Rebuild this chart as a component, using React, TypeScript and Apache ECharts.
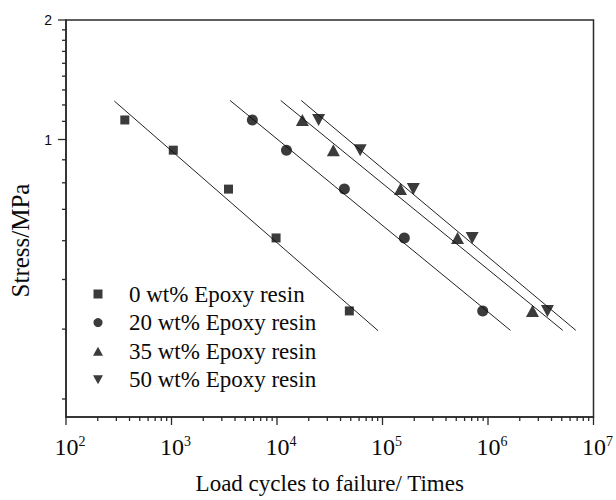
import React, { useEffect, useRef } from "react";
import * as echarts from "echarts";

// Stress levels (MPa) shared by the four mixes
const stressLevels = [1.12, 0.94, 0.75, 0.565, 0.37];
// Load cycles to failure for each mix
const cycles0 = [361, 1040, 3470, 9800, 48500];
const cycles20 = [5840, 12300, 43500, 161000, 891000];
const cycles35 = [17400, 34200, 148000, 514000, 2640000];
const cycles50 = [24800, 61400, 196000, 708000, 3660000];

// Fitted S-N lines: [cycles, stress] end points
const fit0 = [[287, 1.25], [90800, 0.33]];
const fit20 = [[3590, 1.254], [1633000, 0.3306]];
const fit35 = [[10840, 1.254], [5118000, 0.3306]];
const fit50 = [[16980, 1.254], [6808000, 0.3306]];

const seriesNames = [
  "0 wt% Epoxy resin",
  "20 wt% Epoxy resin",
  "35 wt% Epoxy resin",
  "50 wt% Epoxy resin",
];

// Axis ticks
const xDecades = [100, 1000, 10000, 100000, 1000000, 10000000];
const xMinorMultipliers = [2, 3, 4, 5, 6, 7, 8, 9];
const yMajorTicks = [1, 2];
const yMinorTicks = [
  0.222, 0.333, 0.444, 0.556, 0.667, 0.778, 0.889,
  1.111, 1.222, 1.333, 1.444, 1.556, 1.667, 1.778, 1.889,
];

const X_MIN = 100;
const X_MAX = 10000000;
const Y_MIN = 0.2;
const Y_MAX = 2;

const SERIF = "'Times New Roman', 'Liberation Serif', 'DejaVu Serif', serif";
const SANS = "Arial, 'Liberation Sans', sans-serif";
const INK = "#0a0a0a";
const AXIS = "#2a2a2a";

const SQUARE = "path://M0,0H10V10H0Z";
const TRI_UP = "path://M5,0L10,9H0Z";
const TRI_DOWN = "path://M0,0H10L5,9Z";

export default function App() {
  const ref = useRef<HTMLDivElement>(null);

  useEffect(() => {
    if (!ref.current) return;
    const chart = echarts.init(ref.current, undefined, { renderer: "svg" });

    const pts = (xs: number[]) => xs.map((x, i) => [x, stressLevels[i]]);

    const xTickData: number[][] = [];
    xDecades.forEach((d, i) => {
      xTickData.push([d, Y_MIN, 1]);
      if (i < xDecades.length - 1) {
        xMinorMultipliers.forEach((m) => xTickData.push([d * m, Y_MIN, 0]));
      }
    });
    const yTickData: number[][] = [
      ...yMajorTicks.map((v) => [X_MIN, v, 1]),
      ...yMinorTicks.map((v) => [X_MIN, v, 0]),
    ];

    const scatterBase = {
      type: "scatter" as const,
      itemStyle: { color: INK },
      z: 4,
    };
    const fitLine = (data: number[][]) => ({
      type: "line" as const,
      data,
      symbol: "none",
      lineStyle: { color: "#222", width: 1 },
      silent: true,
      z: 3,
    });

    chart.setOption({
      animation: false,
      backgroundColor: "#fff",
      grid: {
        left: 65,
        right: 13,
        top: 20,
        bottom: 80,
        show: true,
        borderColor: AXIS,
        borderWidth: 1.5,
        backgroundColor: "transparent",
      },
      legend: {
        orient: "vertical",
        left: 88,
        top: 277,
        itemWidth: 52,
        itemHeight: 9,
        itemGap: 4.6,
        data: [
          { name: seriesNames[0], icon: SQUARE },
          { name: seriesNames[1], icon: "circle" },
          { name: seriesNames[2], icon: TRI_UP },
          { name: seriesNames[3], icon: TRI_DOWN },
        ],
        textStyle: {
          fontFamily: SERIF,
          fontSize: 23,
          lineHeight: 24,
          color: INK,
        },
        selectedMode: false,
      },
      xAxis: {
        type: "log",
        logBase: 10,
        min: X_MIN,
        max: X_MAX,
        name: "Load cycles to failure/ Times",
        nameLocation: "middle",
        nameGap: 55,
        nameTextStyle: { fontFamily: SERIF, fontSize: 23, color: INK },
        axisLine: { show: true, lineStyle: { color: AXIS, width: 1.5 } },
        axisTick: { show: false },
        splitLine: { show: false },
        axisLabel: {
          margin: 17,
          formatter: (v: number) =>
            "{p|}{b|10}{s|" + Math.round(Math.log10(v)) + "}",
          rich: {
            p: { width: 8, fontSize: 14, lineHeight: 26 },
            b: { fontFamily: SERIF, fontSize: 24, color: INK, lineHeight: 26 },
            s: {
              fontFamily: SERIF,
              fontSize: 14,
              color: INK,
              verticalAlign: "top",
              lineHeight: 26,
              padding: [0, 0, 10, 0],
            },
          },
        },
      },
      yAxis: {
        type: "log",
        logBase: 10,
        min: Y_MIN,
        max: Y_MAX,
        name: "Stress/MPa",
        nameLocation: "middle",
        nameGap: 33,
        nameTextStyle: {
          fontFamily: SERIF,
          fontSize: 25,
          color: INK,
          padding: [0, 44, 0, 0],
        },
        axisLine: { show: true, lineStyle: { color: AXIS, width: 1.5 } },
        axisTick: { show: false },
        splitLine: { show: false },
        axisLabel: {
          margin: 14,
          fontFamily: SANS,
          fontSize: 14,
          color: INK,
          formatter: (v: number) =>
            Math.abs(v - 1) < 1e-6 ? "1" : Math.abs(v - 2) < 1e-6 ? "2" : "",
        },
      },
      series: [
        { ...scatterBase, name: seriesNames[0], data: pts(cycles0), symbol: SQUARE, symbolSize: 9 },
        { ...scatterBase, name: seriesNames[1], data: pts(cycles20), symbol: "circle", symbolSize: 11 },
        { ...scatterBase, name: seriesNames[2], data: pts(cycles35), symbol: TRI_UP, symbolSize: [13, 12] },
        { ...scatterBase, name: seriesNames[3], data: pts(cycles50), symbol: TRI_DOWN, symbolSize: [13, 12] },
        fitLine(fit0),
        fitLine(fit20),
        fitLine(fit35),
        fitLine(fit50),
        {
          type: "custom",
          data: xTickData,
          silent: true,
          clip: false,
          z: 5,
          renderItem: (_p: any, api: any) => {
            const p = api.coord([api.value(0), api.value(1)]);
            const len = api.value(2) ? 8 : 4;
            return {
              type: "line",
              shape: { x1: p[0], y1: p[1], x2: p[0], y2: p[1] + len },
              style: { stroke: AXIS, lineWidth: 1.3 },
            };
          },
        },
        {
          type: "custom",
          data: yTickData,
          silent: true,
          clip: false,
          z: 5,
          renderItem: (_p: any, api: any) => {
            const p = api.coord([api.value(0), api.value(1)]);
            const len = api.value(2) ? 8 : 4;
            return {
              type: "line",
              shape: { x1: p[0] - len, y1: p[1], x2: p[0], y2: p[1] },
              style: { stroke: AXIS, lineWidth: 1.3 },
            };
          },
        },
      ],
    });

    return () => chart.dispose();
  }, []);

  return <div ref={ref} style={{ width: 616, height: 500, position: "absolute", left: 0, top: 0 }} />;
}
